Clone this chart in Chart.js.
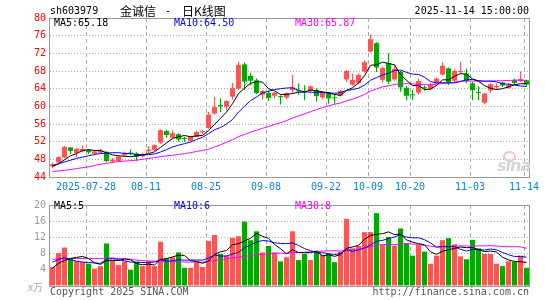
<!DOCTYPE html>
<html><head><meta charset="utf-8">
<script src="https://cdn.jsdelivr.net/npm/chart.js@4/dist/chart.umd.min.js"></script>
<style>
html,body{margin:0;padding:0;background:#fff;}
#wrap{position:relative;width:545px;height:300px;overflow:hidden;}
.t{position:absolute;white-space:nowrap;font-family:"DejaVu Sans Mono",monospace;font-size:10px;line-height:12px;}
.cjk{font-family:"Noto Sans CJK SC",sans-serif;}
#c1{position:absolute;left:0;top:0;}
#c2{position:absolute;left:0;top:195px;}
</style></head><body>
<div id="wrap">
<canvas id="c1" width="545" height="195"></canvas>
<canvas id="c2" width="545" height="105"></canvas>
<div class="t" style="left:50px;top:5px;color:#000">sh603979</div>
<div class="t cjk" style="left:120px;top:3px;font-size:12px;line-height:15px;color:#000">金诚信</div>
<div class="t" style="left:165px;top:5px;color:#000">-</div>
<div class="t cjk" style="left:182px;top:3px;font-size:12px;line-height:15px;color:#000">日K线图</div>
<div class="t" style="right:16px;top:5px;color:#000">2025-11-14 15:00:00</div>
<div class="t" style="left:54px;top:17px;color:#000">MA5:65.18</div>
<div class="t" style="left:174px;top:17px;color:#0000ff">MA10:64.50</div>
<div class="t" style="left:295px;top:17px;color:#ff00ff">MA30:65.87</div>
<div class="t" style="left:54px;top:200px;color:#000">MA5:5</div>
<div class="t" style="left:174px;top:200px;color:#0000ff">MA10:6</div>
<div class="t" style="left:295px;top:200px;color:#ff00ff">MA30:8</div>
<div class="t cjk" style="left:28px;top:281px;color:#aaa">x万</div>
<div class="t" style="left:50px;top:286px;color:#555">Copyright 2025 SINA.COM</div>
<div class="t" style="right:16px;top:286px;color:#555">http://finance.sina.com.cn</div>
<div style="position:absolute;left:503px;top:151px;width:9px;height:7px;border:2px solid #f2c4c4;border-radius:50%;"></div>
<div style="position:absolute;left:497px;top:156px;font:italic bold 16px 'DejaVu Sans',sans-serif;color:#d6d6d6;letter-spacing:-1px;">sina</div>
</div>
<script>
const dates = [
'2025-07-18','2025-07-21','2025-07-22','2025-07-23','2025-07-24','2025-07-25','2025-07-28','2025-07-29','2025-07-30','2025-07-31',
'2025-08-01','2025-08-04','2025-08-05','2025-08-06','2025-08-07','2025-08-08','2025-08-11','2025-08-12','2025-08-13','2025-08-14',
'2025-08-15','2025-08-18','2025-08-19','2025-08-20','2025-08-21','2025-08-22','2025-08-25','2025-08-26','2025-08-27','2025-08-28',
'2025-08-29','2025-09-01','2025-09-02','2025-09-03','2025-09-04','2025-09-05','2025-09-08','2025-09-09','2025-09-10','2025-09-11',
'2025-09-12','2025-09-15','2025-09-16','2025-09-17','2025-09-18','2025-09-19','2025-09-22','2025-09-23','2025-09-24','2025-09-25',
'2025-09-26','2025-09-29','2025-09-30','2025-10-09','2025-10-10','2025-10-13','2025-10-14','2025-10-15','2025-10-16','2025-10-17',
'2025-10-20','2025-10-21','2025-10-22','2025-10-23','2025-10-24','2025-10-27','2025-10-28','2025-10-29','2025-10-30','2025-10-31',
'2025-11-03','2025-11-04','2025-11-05','2025-11-06','2025-11-07','2025-11-10','2025-11-11','2025-11-12','2025-11-13','2025-11-14'];
const tickLabels = ['2025-07-28','08-11','08-25','09-08','09-22','10-09','10-20','11-03','11-14'];
const tickIndex = [6,16,26,36,46,53,60,70,79];

const open = [46.4,47.3,48.4,50.7,49.4,49.8,50.1,49.3,49.5,49.7, 47.5,47.6,48.9,49.5,49.3,48.7,49.9,50.1,51.8,54.4,
 52.9,53.7,52.7,52.2,53.1,54.1,55.1,58.4,60.3,59.9, 62.2,64.0,69.5,66.9,65.9,62.6,63.0,62.4,62.3,62.0,
 63.7,63.6,63.5,63.5,63.7,62.0,63.0,62.0,62.4,66.1, 64.9,65.3,67.9,72.4,74.3,66.0,69.8,66.1,67.8,64.2,
 62.7,63.1,64.3,64.0,65.2,67.2,68.6,65.8,67.8,67.4, 65.2,63.2,60.8,63.6,64.3,65.4,64.2,66.0,65.7,65.9];
const high = [47.2,48.7,51.0,50.8,50.5,51.2,50.3,50.0,50.4,49.8, 48.3,48.8,49.8,50.2,49.6,49.5,51.0,51.4,54.8,54.7,
 54.6,53.9,53.1,53.3,54.5,54.7,58.8,62.1,61.8,61.4, 65.3,70.1,69.9,67.6,66.3,63.7,63.6,63.2,62.5,63.2,
 67.1,65.2,64.8,64.8,64.1,63.4,63.2,62.8,63.7,68.3, 67.3,67.5,70.4,76.3,74.5,69.0,72.0,69.3,68.0,64.6,
 63.7,66.3,64.7,65.2,66.5,70.0,68.8,68.4,70.0,68.5, 65.5,64.5,63.1,65.2,65.2,65.6,65.3,66.3,67.9,66.0];
const low = [46.0,47.2,48.2,49.2,48.4,49.6,49.2,49.0,49.3,47.4, 47.2,47.5,48.7,48.9,47.6,48.5,49.4,49.9,51.5,52.9,
 52.6,52.0,52.0,51.9,53.0,53.7,54.9,58.1,58.7,59.1, 61.5,63.8,63.7,64.8,62.8,61.5,61.2,61.8,60.4,61.6,
 63.0,62.6,61.4,63.2,61.1,61.6,60.6,60.4,62.2,65.5, 64.6,65.0,67.6,72.2,67.8,65.4,65.0,65.8,63.3,61.4,
 61.4,62.6,63.6,63.6,65.0,67.0,64.8,65.4,67.4,65.2, 61.4,61.4,60.5,63.0,64.0,64.4,63.9,65.0,65.5,64.6];
const close = [46.9,48.5,50.8,49.9,50.4,50.3,49.6,49.8,50.0,47.6, 47.9,48.6,49.4,49.3,48.6,49.1,50.2,51.2,54.6,53.5,
 53.9,52.5,52.6,53.1,54.2,54.4,58.1,59.8,60.0,61.2, 64.1,69.4,65.6,65.8,63.0,63.5,61.9,63.1,62.1,63.0,
 64.3,63.4,63.2,64.5,62.3,63.1,61.8,61.8,63.5,68.0, 66.0,67.1,70.0,75.2,68.8,68.7,65.6,68.5,64.3,62.4,
 62.5,65.7,64.1,64.9,66.3,69.2,65.4,68.0,68.0,65.7, 63.7,63.0,62.9,65.0,64.6,64.7,64.8,65.3,66.2,64.9];

const ma5 = [46.4,47.0,47.9,48.8,49.3,50.0,50.2,50.0,50.0,49.5, 49.0,48.8,48.7,48.6,48.8,49.0,49.3,49.7,50.7,51.7,
 52.7,53.1,53.4,53.1,53.3,53.4,54.5,55.9,57.3,58.7, 60.6,62.9,64.1,65.2,65.6,65.5,64.0,63.5,62.7,62.7,
 62.9,63.2,63.2,63.7,63.5,63.3,63.0,62.7,62.5,63.6, 64.2,65.3,66.9,69.3,69.4,70.0,69.7,69.4,67.2,65.9,
 64.7,64.7,63.8,63.9,64.7,66.0,66.0,66.8,67.4,67.3, 66.2,65.7,64.7,64.1,63.8,64.0,64.4,64.9,65.1,65.18];
const ma10 = [46.6,47.0,47.4,47.8,48.2,48.5,48.8,49.1,49.3,49.4, 49.5,49.5,49.35,49.3,49.1,49.0,49.05,49.2,49.65,50.2,
 50.8,51.2,51.55,51.9,52.5,53.0,53.8,54.7,55.2,56.0, 57.0,58.7,60.0,61.3,62.1,63.05,63.4,63.8,64.0,64.15,
 64.2,63.6,63.3,63.2,63.1,63.1,63.1,62.95,63.1,63.6, 63.8,64.1,64.8,65.9,66.5,67.1,67.5,68.1,68.2,67.7,
 67.3,67.2,66.6,65.6,65.3,65.35,65.3,65.3,65.65,66.0, 66.1,65.8,65.7,65.7,65.55,65.1,65.0,64.8,64.6,64.5];
const ma30 = [45.2,45.4,45.5,45.7,45.9,46.1,46.3,46.6,46.9,47.1, 47.3,47.5,47.6,47.7,47.8,48.0,48.2,48.4,48.6,48.8,
 48.9,49.1,49.3,49.5,49.8,50.0,50.3,50.8,51.3,51.87, 52.44,53.14,53.63,54.16,54.58,55.02,55.43,55.87,56.28,56.79,
 57.34,57.83,58.29,58.8,59.25,59.72,60.11,60.46,60.76,61.24, 61.64,62.13,62.71,63.45,63.93,64.41,64.66,64.95,65.09,65.13,
 65.08,64.96,64.91,64.88,64.99,65.18,65.29,65.46,65.65,65.74, 65.72,65.71,65.7,65.72,65.79,65.8,65.85,65.9,65.92,65.87];

const volume = [4.7,8.1,9.5,6.9,6.1,5.9,5.5,4.3,4.9,10.5, 6.5,5.2,6.1,4.0,6.0,4.9,6.1,4.9,10.9,6.9,
 7.1,8.3,4.5,4.5,6.0,4.7,11.1,12.6,7.9,7.5, 11.9,12.3,15.9,11.3,13.5,8.3,9.9,8.3,6.1,7.1,
 13.5,6.4,7.9,6.4,8.7,7.7,7.9,5.9,8.5,16.6, 9.3,9.9,13.3,13.3,18.0,10.1,12.1,9.9,14.2,10.6,
 7.5,10.1,8.5,5.5,7.5,11.3,11.8,10.3,7.3,6.6, 11.4,9.3,7.9,7.9,5.5,4.9,6.1,6.0,7.5,4.5];
const volMa5 = [4.4,5.6,6.3,6.8,7.06,7.3,6.78,5.74,5.34,6.22, 6.34,6.28,6.64,6.46,5.56,5.24,5.42,5.18,6.56,6.74,
 7.18,7.62,7.54,6.26,6.08,5.6,6.16,7.78,8.46,8.76, 10.2,10.44,11.1,11.78,12.98,12.26,11.78,10.26,9.22,7.94,
 8.98,8.28,8.2,8.26,8.58,7.42,7.72,7.32,7.74,9.32, 9.64,10.04,11.52,12.48,12.76,12.92,13.36,12.68,12.86,11.38,
 10.86,10.46,10.18,8.44,7.82,8.58,8.92,9.28,9.64,9.46, 9.48,8.98,8.5,8.62,8.4,7.1,6.46,6.08,6.0,5.8];
const volMa10 = [5.9,6.5,7.0,6.5,6.1,5.9,5.8,5.7,5.6,6.64, 6.82,6.53,6.19,5.9,5.89,5.79,5.85,5.91,6.51,6.15,
 6.21,6.52,6.36,6.41,6.41,6.39,6.89,7.66,7.36,7.42, 7.9,8.3,9.44,10.12,10.87,11.23,11.11,10.68,10.5,10.46,
 10.62,10.03,9.23,8.74,8.26,8.2,8.0,7.76,8.0,8.95, 8.53,8.88,9.42,10.11,11.04,11.28,11.7,12.1,12.67,12.07,
 11.89,11.91,11.43,10.65,9.6,9.72,9.69,9.73,9.04,8.64, 9.03,8.95,8.89,9.13,8.93,8.29,7.72,7.29,7.31,7.1];
const volMa30 = [6.6,6.7,6.8,6.8,6.8,6.8,6.8,6.8,6.8,6.9, 6.9,6.8,6.8,6.6,6.4,6.3,6.2,6.1,6.1,6.0,
 6.0,6.0,5.9,5.9,5.9,5.9,6.1,6.3,6.5,6.74, 6.98,7.12,7.33,7.48,7.72,7.8,7.95,8.08,8.12,8.01,
 8.24,8.28,8.34,8.42,8.51,8.61,8.67,8.7,8.62,8.94, 9.02,9.07,9.36,9.66,10.06,10.24,10.27,10.18,10.39,10.49,
 10.35,10.27,10.03,9.83,9.63,9.73,9.8,9.86,9.9,9.89, 9.82,9.91,9.91,9.96,9.86,9.76,9.7,9.71,9.67,9.27];

const priceMin = 44, priceMax = 80, priceStep = 4;
const volMin = 0, volMax = 20, volStep = 4;

const RED = '#ff5454', GREEN = '#00a800';
const colors = close.map((c, i) => c >= open[i] ? RED : GREEN);
const xMin = -5 / 12, xMax = xMin + dates.length;
const pts = arr => arr.map((v, i) => ({x: i, y: v}));
const MONO = 'DejaVu Sans Mono';

const frame = {
  id: 'frame',
  afterDatasetsDraw(chart) {
    const {ctx, chartArea: a} = chart;
    ctx.save();
    ctx.strokeStyle = '#9a9a9a';
    ctx.lineWidth = 1;
    ctx.strokeRect(a.left - 0.5, a.top + 0.5, a.width, a.height);
    ctx.restore();
  }
};

function xAxis(showLabels, h) {
  return {
    type: 'linear', min: xMin, max: xMax, offset: false, bounds: 'data',
    grid: {offset: false, drawTicks: false, color: '#ababab', lineWidth: 1},
    border: {display: false, dash: [4, 3]},
    afterBuildTicks(s) { s.ticks = tickIndex.map(i => ({value: i + xMin})); },
    ticks: {display: showLabels, autoSkip: false, maxRotation: 0, minRotation: 0, padding: 4,
      color: '#1580d0', font: {family: MONO, size: 10},
      callback: (v, i) => tickLabels[i]},
    afterFit(s) { s.height = h; }
  };
}
function yAxis(min, max, step, color, hideZero) {
  return {
    type: 'linear', min, max, beginAtZero: false,
    ticks: {stepSize: step, color, padding: 4, font: {family: MONO, size: 10},
      callback: v => (hideZero && v === min) ? '' : String(v)},
    grid: {drawTicks: false, lineWidth: 1,
      color: c => (c.tick && (c.tick.value === min || c.tick.value === max)) ? 'rgba(0,0,0,0)' : '#ababab'},
    border: {display: false, dash: [1, 2]},
    afterFit(s) { s.width = 50; }
  };
}
const lineDs = (data, color) => ({type: 'line', data: pts(data), borderColor: color, borderWidth: 1,
  pointRadius: 0, tension: 0, fill: false, order: 0});

const common = {
  responsive: false, animation: false, events: [],
  plugins: {legend: {display: false}, tooltip: {enabled: false}},
};

new Chart(document.getElementById('c1'), {
  type: 'bar',
  data: {datasets: [
    lineDs(ma5, '#000000'), lineDs(ma10, '#0000ff'), lineDs(ma30, '#ff00ff'),
    {type: 'bar', data: low.map((l, i) => ({x: i, y: [l, high[i]]})), backgroundColor: colors,
      barThickness: 1, grouped: false, order: 2, inflateAmount: 0, borderWidth: 0},
    {type: 'bar', data: open.map((o, i) => ({x: i, y: [o, close[i]]})), backgroundColor: colors,
      barThickness: 5, grouped: false, order: 1, minBarLength: 1, inflateAmount: 0, borderWidth: 0}
  ]},
  options: Object.assign({}, common, {
    layout: {padding: {top: 18, right: 15, left: 0, bottom: 0}},
    scales: {x: xAxis(true, 18), y: yAxis(priceMin, priceMax, priceStep, '#ff0000', false)}
  }),
  plugins: [frame]
});

new Chart(document.getElementById('c2'), {
  type: 'bar',
  data: {datasets: [
    lineDs(volMa5, '#000000'), lineDs(volMa10, '#0000ff'), lineDs(volMa30, '#ff00ff'),
    {type: 'bar', data: pts(volume), backgroundColor: colors, barThickness: 5, grouped: false,
      order: 1, inflateAmount: 0, borderWidth: 0}
  ]},
  options: Object.assign({}, common, {
    layout: {padding: {top: 7, right: 15, left: 0, bottom: 0}},
    scales: {x: xAxis(false, 14), y: yAxis(volMin, volMax, volStep, '#999999', true)}
  }),
  plugins: [frame]
});
</script>
</body></html>
